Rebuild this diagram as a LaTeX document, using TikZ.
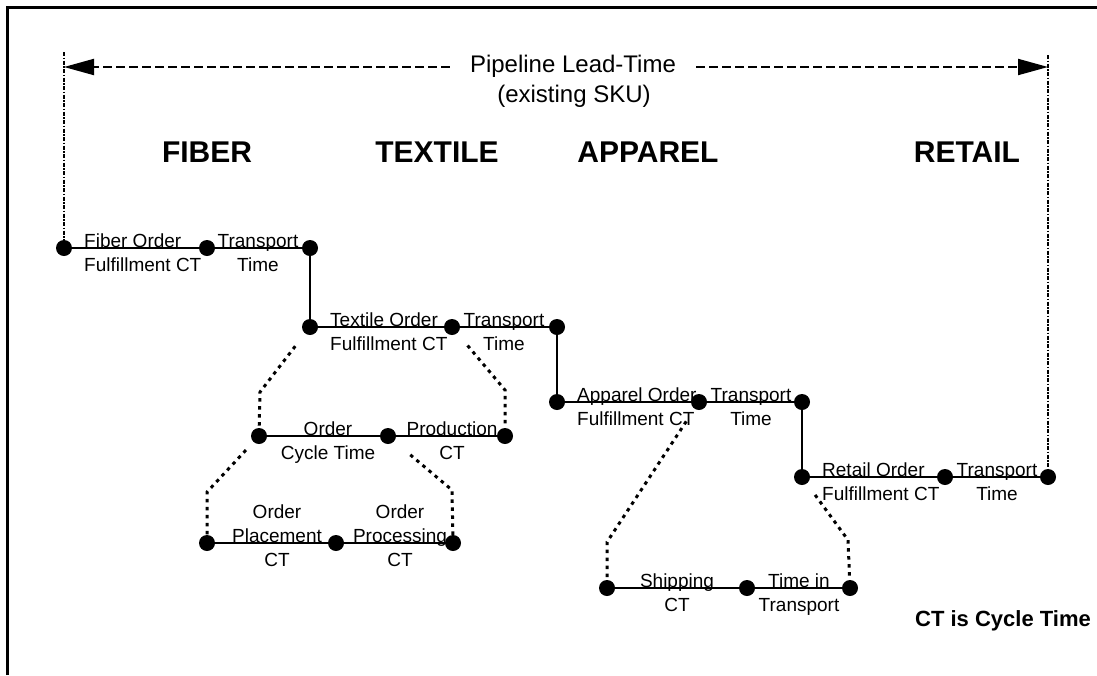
\documentclass[tikz,border=0pt]{standalone}
\usepackage{fontspec}
\setmainfont{Liberation Sans}
\usetikzlibrary{arrows.meta}

\tikzset{
  dot/.style={circle, fill=black, inner sep=0pt, minimum size=16pt},
  seg/.style={line width=2.5pt},
  zoomline/.style={line width=3pt, dash pattern=on 3.5pt off 4.5pt},
  bound/.style={line width=2.2pt, dash pattern=on 4pt off 1.5pt on 1.5pt off 1.5pt},
  lead/.style={line width=2pt, dash pattern=on 9pt off 4pt, shorten <=20pt,
    -{Triangle[length=30pt,width=16pt]}},
  lbl/.style={inner sep=0pt, font=\fontsize{19}{24}\selectfont},
  stage/.style={anchor=base, inner sep=0pt, font=\fontsize{30}{36}\selectfont\bfseries}
}

\begin{document}
\begin{tikzpicture}[x=1pt, y=-1pt]
\useasboundingbox (0,0) rectangle (1097,675);

% frame
\draw[line width=3pt] (7,675) -- (7,7) -- (1097,7);

%% Pipeline lead-time %%%%%%%%%%%%%%%%%%%%%%%%%%%
\node[anchor=base, inner sep=0pt, font=\fontsize{24}{30}\selectfont] (title) at (573,72) {Pipeline Lead-Time};
\node[anchor=base, inner sep=0pt, font=\fontsize{24}{30}\selectfont] (subtitle) at (574,102) {(existing SKU)};

\coordinate (ltip) at (64,67);
\coordinate (rtip) at (1048,67);
\coordinate (ltop) at (64,52);
\coordinate (rtop) at (1048,55);

\draw[lead] (title.west |- ltip) -- (ltip);
\draw[lead] (title.east |- rtip) -- (rtip);

%% Stages
\node[stage] (fiber) at (207,162) {FIBER};
\node[stage] (textile) at (437,162) {TEXTILE};
\node[stage] (apparel) at (648,162) {APPAREL};
\node[stage] (retail) at (967,162) {RETAIL};

%% Pipeline dots %%%%%%%%%%%%%%%%%%%%%%%%%%%%%%%%
\node[dot] (f0) at (64,248) {};
\node[dot] (f1) at (207,248) {};
\node[dot] (f2) at (310,248) {};

\node[dot] (t0) at (310,327) {};
\node[dot] (t1) at (452,327) {};
\node[dot] (t2) at (557,327) {};

\node[dot] (a0) at (557,402) {};
\node[dot] (a1) at (699,402) {};
\node[dot] (a2) at (802,402) {};

\node[dot] (r0) at (802,477) {};
\node[dot] (r1) at (945,477) {};
\node[dot] (r2) at (1048,477) {};

\draw[bound] (ltop) -- (f0);
\draw[bound] (rtop) -- (r2);

\draw[seg] (f0) -- (f1) -- (f2) -- (t0) -- (t1) -- (t2) -- (a0) -- (a1) -- (a2) -- (r0) -- (r1) -- (r2);

%% Labels
\node[lbl, anchor=west] (fiberct) at (84,255) {\begin{tabular}{@{}l@{}}Fiber Order\\Fulfillment CT\end{tabular}};
\node[lbl] (fibertr) at (258,255) {\begin{tabular}{@{}c@{}}Transport\\Time\end{tabular}};

\node[lbl, anchor=west] (textct) at (330,334) {\begin{tabular}{@{}l@{}}Textile Order\\Fulfillment CT\end{tabular}};
\node[lbl] (texttr) at (504,334) {\begin{tabular}{@{}c@{}}Transport\\Time\end{tabular}};

\node[lbl, anchor=west] (appct) at (577,409) {\begin{tabular}{@{}l@{}}Apparel Order\\Fulfillment CT\end{tabular}};
\node[lbl] (apptr) at (751,409) {\begin{tabular}{@{}c@{}}Transport\\Time\end{tabular}};

\node[lbl, anchor=west] (retct) at (822,484) {\begin{tabular}{@{}l@{}}Retail Order\\Fulfillment CT\end{tabular}};
\node[lbl] (rettr) at (997,484) {\begin{tabular}{@{}c@{}}Transport\\Time\end{tabular}};

%% Textile order fulfillment %%%%%%%%%%%%%%%%%%%%
\node[dot] (o0) at (259,436) {};
\node[dot] (o1) at (388,436) {};
\node[dot] (o2) at (505,436) {};
\draw[seg] (o0) -- (o1) -- (o2);

\coordinate (tl) at (260,392);
\coordinate (tr) at (505,390);
\draw[zoomline, shorten <=16pt] (t0) -- (tl) -- (o0);
\draw[zoomline, shorten <=16pt] (t1) -- (tr) -- (o2);

\node[lbl] (cyclect) at (328,443) {\begin{tabular}{@{}c@{}}Order\\Cycle Time\end{tabular}};
\node[lbl] (prodct) at (452,443) {\begin{tabular}{@{}c@{}}Production\\CT\end{tabular}};

%% Order cycle time
\node[dot] (p0) at (207,543) {};
\node[dot] (p1) at (336,543) {};
\node[dot] (p2) at (453,543) {};
\draw[seg] (p0) -- (p1) -- (p2);

\coordinate (ol) at (207,492);
\coordinate (or) at (452,490);
\draw[zoomline, shorten <=11pt] (o0) -- (ol) -- (p0);
\draw[zoomline, shorten <=21pt] (o1) -- (or) -- (p2);

\node[lbl] (placect) at (277,538) {\begin{tabular}{@{}c@{}}Order\\Placement\\CT\end{tabular}};
\node[lbl] (procct) at (400,538) {\begin{tabular}{@{}c@{}}Order\\Processing\\CT\end{tabular}};

%% Transport time
\node[dot] (s0) at (607,588) {};
\node[dot] (s1) at (747,588) {};
\node[dot] (s2) at (850,588) {};
\draw[seg] (s0) -- (s1) -- (s2);

\coordinate (al) at (607,542);
\coordinate (ar) at (848,540);
\draw[zoomline, shorten <=15pt] (a1) -- (al) -- (s0);
\draw[zoomline, shorten <=14pt] (r0) -- (ar) -- (s2);

\node[lbl] (shipct) at (677,595) {\begin{tabular}{@{}c@{}}Shipping\\CT\end{tabular}};
\node[lbl] (transct) at (799,595) {\begin{tabular}{@{}c@{}}Time in\\Transport\end{tabular}};

%% Note
\node[anchor=base, inner sep=0pt, font=\fontsize{22}{26}\selectfont\bfseries] (note) at (1003,626) {CT is Cycle Time};

\end{tikzpicture}
\end{document}
